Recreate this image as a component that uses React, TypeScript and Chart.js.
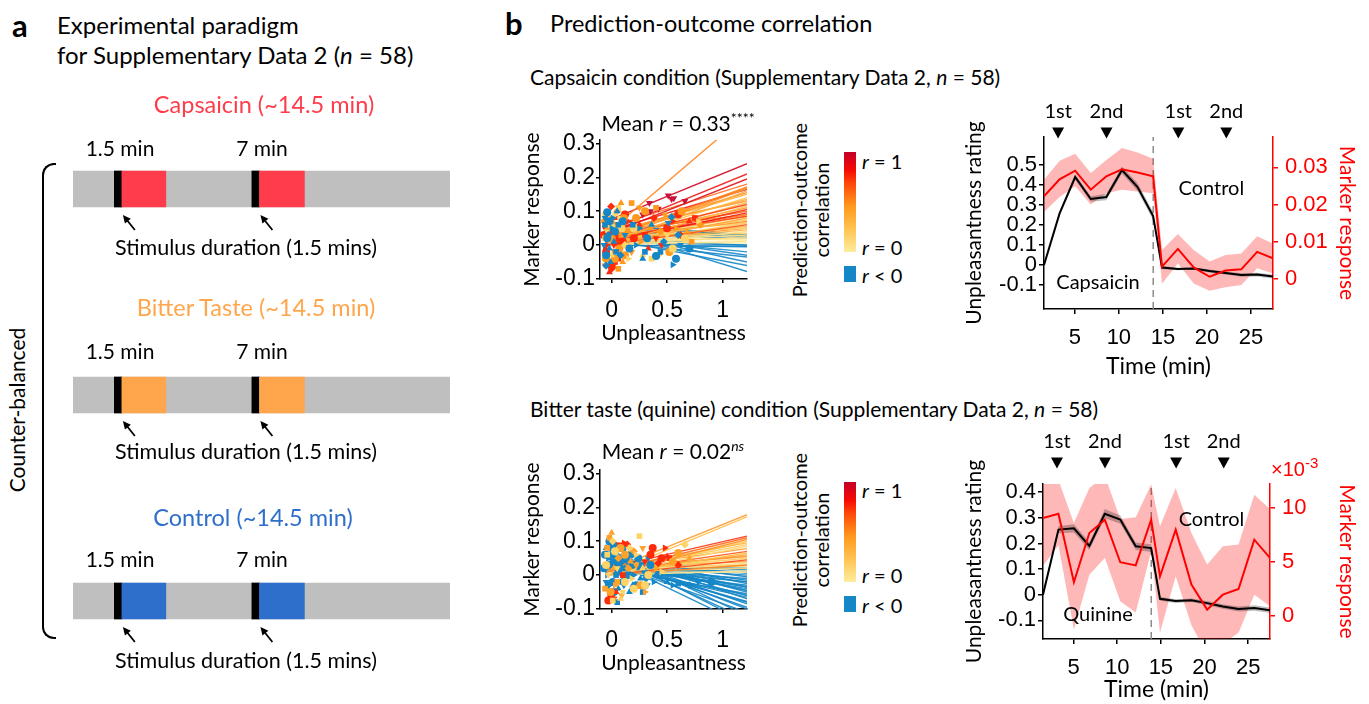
import React, { useEffect, useRef } from 'react';
import { Chart, registerables } from 'chart.js';

Chart.register(...registerables);

const FONT = "Lato, 'Noto Sans', sans-serif";
const TICK_FONT = "'Liberation Sans', Arial, sans-serif";
Chart.defaults.font.family = FONT;
Chart.defaults.color = '#000';

// ---------------- Panel a: paradigm schematic (minutes) ----------------
const schematicRows = ['Capsaicin', 'Bitter Taste', 'Control'];
const rowColors = ['#ff3c4b', '#ffa64d', '#2f6fcc'];
const sessionBar = [0, 14.5];
const markerBars = [[1.59, 1.88], [6.88, 7.17]];
const stimulusBars = [[1.88, 3.57], [7.17, 8.9]];

// ---------------- Panel b: time courses ----------------
const timeMin = [1.5, 3.27, 5.04, 6.81, 8.58, 10.35, 12.12, 13.89, 14.9, 16.7, 18.5, 20.3, 22.1, 23.9, 25.7, 27.5];
const sessionSplit = 13.9;
const eventTimes = [3.1, 8.6, 16.75, 22.2];
const eventLabels = ['1st', '2nd', '1st', '2nd'];
const timeTicks = [5, 10, 15, 20, 25];

const capRating = [0, 0.258, 0.44, 0.33, 0.34, 0.475, 0.39, 0.245, -0.013, -0.02, -0.018, -0.03, -0.04, -0.05, -0.048, -0.058];
const capRatingSE = [0.004, 0.012, 0.014, 0.014, 0.016, 0.018, 0.02, 0.02, 0.008, 0.006, 0.006, 0.007, 0.008, 0.009, 0.009, 0.01];
const capMarker = [0.0222, 0.0268, 0.0291, 0.024, 0.0276, 0.0295, 0.0286, 0.0276, 0.0032, 0.008, 0.003, 0.0005, 0.0022, 0.0025, 0.0072, 0.0055];
const capMarkerUpper = [0.0267, 0.0318, 0.0337, 0.0285, 0.032, 0.0352, 0.034, 0.0323, 0.0077, 0.012, 0.0077, 0.0046, 0.0064, 0.0068, 0.0114, 0.0095];
const capMarkerLower = [0.018, 0.022, 0.0249, 0.02, 0.023, 0.024, 0.0235, 0.023, -0.0014, 0.0041, -0.0013, -0.0033, -0.0023, -0.0017, 0.0028, 0.0014];
const capRatingTicks = [-0.1, 0, 0.1, 0.2, 0.3, 0.4, 0.5];
const capMarkerTicks = [0, 0.01, 0.02, 0.03];

const quiRating = [0, 0.254, 0.259, 0.19, 0.316, 0.293, 0.189, 0.182, -0.016, -0.025, -0.022, -0.033, -0.046, -0.056, -0.052, -0.061];
const quiRatingSE = [0.004, 0.014, 0.016, 0.016, 0.018, 0.016, 0.015, 0.015, 0.008, 0.007, 0.007, 0.008, 0.009, 0.01, 0.011, 0.011];
const quiMarker = [9.07, 9.47, 3.1, 7.68, 8.92, 4.96, 4.67, 8.92, 3.65, 7.99, 2.88, 0.56, 1.95, 2.48, 7.06, 5.36]; // x10^-3
const quiMarkerUpper = [13.5, 12.6, 8.6, 11.85, 13.0, 8.98, 9.13, 12.2, 8.3, 11.85, 7.68, 4.74, 6.44, 6.6, 11.24, 9.9];
const quiMarkerLower = [4.64, 6.53, -1.3, 3.8, 5.36, 1.33, 0.3, 5.97, -1.6, 3.65, -0.9, -3.6, -2.6, -1.6, 1.95, 0.87];
const quiRatingTicks = [-0.1, 0, 0.1, 0.2, 0.3, 0.4];
const quiMarkerTicks = [0, 5, 10];

// ---------------- Panel b: prediction-outcome scatter ----------------
const fitX = [-0.05, 1.22];
const scatterXTicks = [0, 0.5, 1];
const scatterYTicks = [-0.1, 0, 0.1, 0.2, 0.3];

const capLineStart = [0.033, 0.07, 0.04, 0.03, 0.05, 0.02, 0.01, 0.04, 0.0, 0.03, 0.01, 0.04, 0.02, 0.0, 0.01, 0.03, 0.01, 0.04, 0.02, 0.0, 0.01, 0.02, 0.03, 0.0, 0.01, 0.02, 0.01, 0.0, 0.02, 0.01, 0.0, 0.01, 0.02, 0.0, 0.01, 0.05, 0.04, 0.03, 0.02, 0.01, 0.0, 0.02, 0.03, 0.01, 0.04, 0.02, 0.05, 0.06, 0.0, 0.02, 0.03, 0.01, 0.02, 0.0, 0.01, 0.02, 0.03, 0.01];
const capLineEnd = [0.387, 0.24, 0.21, 0.195, 0.18, 0.172, 0.168, 0.165, 0.16, 0.15, 0.14, 0.13, 0.12, 0.115, 0.105, 0.1, 0.095, 0.09, 0.085, 0.08, 0.075, 0.07, 0.065, 0.06, 0.055, 0.05, 0.045, 0.04, 0.035, 0.03, 0.025, 0.02, 0.015, 0.012, 0.006, 0.03, 0.025, 0.02, 0.0, 0.0, -0.003, -0.02, -0.03, -0.035, -0.05, -0.06, -0.078, 0.03, -0.005, 0.17, 0.155, 0.125, 0.11, 0.065, 0.05, 0.09, 0.135, 0.085];
const capLineR = [0.55, 0.95, 0.85, 0.9, 0.6, 0.5, 0.45, 0.8, 0.4, 0.35, 0.3, 0.45, 0.7, 0.3, 0.75, 0.6, 0.85, 0.5, 0.7, 0.4, 0.25, 0.55, 0.2, 0.65, 0.3, 0.15, 0.35, 0.1, 0.2, 0.08, 0.12, 0.05, 0.03, 0.05, 0.02, -0.1, -0.1, -0.1, -0.2, -0.2, -0.1, -0.3, -0.3, -0.3, -0.4, -0.4, -0.5, -0.1, -0.1, 0.55, 0.5, 0.35, 0.45, 0.25, 0.6, 0.65, 0.4, 0.2];

const capPtsCrimson = [[0.34, 0.124], [0.51, 0.146], [0.54, 0.136], [0.56, 0.138], [0.66, 0.13], [0.42, 0.107], [0.35, 0.1], [0.28, 0.09]];
const capPtsRed = [[-0.005, 0.114], [0.02, 0.0], [-0.05, -0.02], [-0.03, 0.03], [0.0, -0.06], [-0.02, -0.08], [0.03, -0.05], [0.05, 0.02], [-0.06, 0.05], [0.1, 0.01], [0.15, 0.07], [0.2, 0.02], [0.25, 0.06], [0.3, 0.03], [0.38, 0.08], [0.45, 0.0], [0.5, 0.05], [0.55, 0.07], [0.6, 0.09], [0.7, 0.07], [0.75, 0.08], [0.62, 0.03], [0.4, 0.02], [0.12, 0.09], [-0.04, 0.0], [0.01, 0.04], [0.33, -0.01], [0.08, -0.03], [0.0, -0.07], [0.05, 0.06], [-0.07, 0.03], [-0.06, -0.01], [-0.03, 0.06], [0.03, 0.08], [0.06, -0.04], [-0.01, 0.02], [0.04, 0.03], [0.09, 0.06], [0.02, -0.065], [0.07, 0.0]];
const capPtsOrange = [[0.085, 0.124], [0.18, 0.124], [-0.07, 0.07], [-0.03, 0.08], [0.0, 0.02], [0.04, 0.06], [0.07, -0.01], [0.1, -0.05], [0.06, -0.07], [0.14, 0.04], [0.18, -0.02], [0.22, 0.08], [0.26, 0.01], [0.3, 0.1], [0.35, 0.05], [0.4, 0.11], [0.44, 0.04], [0.48, 0.09], [0.52, -0.02], [0.58, 0.05], [0.63, 0.1], [0.68, 0.04], [0.72, 0.01], [0.8, 0.06], [0.25, 0.11], [-0.05, -0.04], [0.02, -0.02], [0.12, -0.03], [-0.04, 0.05], [0.0, 0.07], [0.05, 0.1], [-0.06, -0.06], [0.03, -0.04], [0.08, 0.03], [0.11, 0.08]];
const capPtsYellow = [[0.06, 0.11], [-0.02, 0.06], [0.03, 0.09], [0.09, 0.05], [0.15, -0.04], [0.2, 0.05], [0.28, -0.03], [0.36, -0.04], [0.42, -0.03], [0.5, 0.03], [0.66, 0.02], [0.78, 0.07], [0.55, -0.01], [0.0, -0.03], [-0.06, 0.02], [0.12, 0.0], [-0.04, 0.04], [0.02, 0.05], [0.07, 0.08], [-0.05, 0.09]];
const capPtsBlue = [[-0.04, 0.097], [0.05, 0.1], [0.19, 0.06], [0.54, 0.083], [0.51, 0.065], [0.58, -0.04], [0.55, -0.058], [0.4, -0.032], [0.28, -0.04], [-0.06, 0.06], [-0.03, 0.03], [-0.07, 0.0], [-0.02, 0.07], [0.0, 0.05], [-0.05, -0.03], [0.02, 0.01], [0.04, -0.02], [0.08, -0.03], [0.12, 0.03], [0.16, -0.01], [0.22, 0.0], [0.32, 0.02], [0.36, 0.06], [0.44, -0.02], [0.47, 0.01], [0.62, 0.0], [0.7, -0.01], [0.25, 0.05], [0.1, 0.07], [-0.01, -0.05], [0.3, -0.02], [0.6, 0.03], [-0.06, 0.08], [-0.04, 0.02], [0.01, 0.08], [0.03, 0.04], [-0.02, -0.01], [0.06, 0.06], [-0.05, -0.06]];

const quiLineStart = [0.01, 0.0, 0.02, 0.01, 0.0, 0.02, 0.01, 0.0, 0.02, 0.01, 0.0, 0.02, 0.01, 0.0, 0.02, 0.01, 0.0, 0.02, 0.01, 0.0, 0.01, 0.02, 0.01, 0.0, 0.02, 0.03, 0.04, 0.02, 0.03, 0.05, 0.02, 0.04, 0.03, 0.06, 0.02, 0.05, 0.03, 0.04, 0.06, 0.02, 0.05, 0.03, 0.07, 0.04, 0.06, 0.05, 0.08, 0.06, 0.07, 0.05, 0.04, 0.03, 0.02, 0.04, 0.05, 0.03, 0.06, 0.04];
const quiLineEnd = [0.178, 0.172, 0.115, 0.11, 0.105, 0.095, 0.09, 0.085, 0.078, 0.07, 0.065, 0.055, 0.05, 0.045, 0.04, 0.035, 0.03, 0.025, 0.02, 0.012, 0.008, 0.03, 0.06, 0.1, 0.048, 0.02, 0.015, 0.01, 0.0, -0.005, -0.01, -0.015, -0.02, -0.025, -0.03, -0.035, -0.04, -0.045, -0.05, -0.055, -0.06, -0.065, -0.07, -0.078, -0.085, -0.095, -0.12, -0.13, -0.14, -0.15, -0.11, -0.035, -0.02, 0.005, -0.045, -0.06, -0.1, -0.08];
const quiLineR = [0.45, 0.3, 0.75, 0.6, 0.5, 0.35, 0.25, 0.15, 0.45, 0.65, 0.3, 0.5, 0.2, 0.7, 0.4, 0.1, 0.55, 0.08, 0.15, 0.05, 0.03, 0.25, 0.4, 0.2, 0.12, -0.1, -0.1, -0.1, -0.2, -0.2, -0.2, -0.2, -0.3, -0.3, -0.3, -0.3, -0.3, -0.4, -0.4, -0.4, -0.4, -0.5, -0.5, -0.5, -0.5, -0.6, -0.6, -0.6, -0.6, -0.6, -0.5, -0.3, -0.2, -0.1, -0.4, -0.4, -0.5, -0.5];

const quiPtsRed = [[0.14, 0.09], [0.07, 0.09], [0.37, 0.08], [0.48, 0.08], [0.45, 0.05], [0.5, 0.055], [0.52, 0.05], [0.42, 0.035], [0.3, 0.04], [0.35, 0.06], [-0.02, -0.06], [0.0, -0.07], [0.04, -0.05], [0.1, 0.0], [0.6, 0.03], [0.02, -0.07], [-0.03, -0.075], [0.11, 0.095]];
const quiPtsOrange = [[0.0, 0.125], [-0.02, 0.11], [0.2, 0.07], [0.28, 0.08], [0.6, 0.065], [0.3, -0.05], [0.26, -0.03], [0.02, 0.02], [0.05, -0.02], [0.15, 0.02], [0.22, 0.03], [0.12, 0.06], [0.4, 0.02], [0.55, 0.04], [0.7, 0.05], [-0.06, -0.04], [0.06, 0.05], [0.09, -0.06], [-0.01, -0.05], [0.03, -0.03], [0.08, 0.08], [0.17, 0.04], [-0.04, 0.08]];
const quiPtsYellow = [[0.25, 0.115], [0.66, 0.09], [0.1, -0.05], [-0.05, 0.03], [0.18, -0.01], [0.33, 0.0], [0.08, -0.07], [0.01, -0.075], [0.16, 0.08], [-0.03, 0.0], [0.2, -0.04], [0.45, 0.01], [0.03, 0.07], [0.28, 0.02], [-0.04, 0.06], [0.01, 0.1], [0.05, 0.02], [0.12, -0.02], [0.22, 0.06], [0.3, -0.03]];
const quiPtsBlue = [[-0.02, 0.1], [-0.05, 0.08], [0.0, 0.06], [0.03, 0.09], [0.05, 0.04], [-0.07, 0.02], [-0.04, 0.0], [0.01, -0.02], [0.06, -0.04], [0.09, 0.02], [0.12, -0.01], [0.14, 0.04], [0.17, 0.06], [0.2, 0.0], [0.22, -0.03], [0.25, 0.02], [0.28, -0.05], [0.3, 0.01], [0.32, -0.03], [0.35, 0.03], [0.38, -0.02], [0.42, 0.0], [0.5, -0.02], [0.6, -0.025], [0.7, -0.03], [0.78, -0.02], [0.9, -0.02], [0.55, -0.03], [0.1, 0.08], [0.16, -0.05], [0.05, -0.08], [-0.03, -0.03], [0.08, 0.05], [0.24, 0.05], [0.13, 0.02], [0.18, 0.03], [0.26, -0.01], [0.04, 0.0], [-0.01, 0.03], [0.11, -0.03], [-0.06, 0.06], [-0.03, 0.05], [0.0, 0.08], [0.02, 0.04], [0.04, 0.07], [0.07, 0.03], [-0.05, -0.02], [0.02, -0.05], [0.09, -0.02], [0.15, 0.0], [0.19, -0.03], [0.27, 0.03], [0.31, -0.01], [0.33, 0.05], [0.06, 0.01]];

// ---------------- helpers ----------------
const BLUE = '#1586c6';
const R_STOPS: [number, number[]][] = [
  [0, [255, 237, 160]],
  [0.3, [255, 190, 70]],
  [0.55, [255, 130, 30]],
  [0.8, [250, 30, 15]],
  [1, [195, 0, 40]],
];
function rColor(r: number, a = 1) {
  if (r < 0) return `rgba(21,134,198,${a})`;
  for (let i = 1; i < R_STOPS.length; i++) {
    const [r0, c0] = R_STOPS[i - 1];
    const [r1, c1] = R_STOPS[i];
    if (r <= r1) {
      const t = (r - r0) / (r1 - r0);
      const c = c0.map((v, k) => Math.round(v + (c1[k] - v) * t));
      return `rgba(${c[0]},${c[1]},${c[2]},${a})`;
    }
  }
  return `rgba(195,0,40,${a})`;
}
const SHAPES = ['circle', 'triangle', 'rect', 'rectRot', 'triangle', 'circle', 'triangle'];
const ROTS = [0, 0, 0, 0, 180, 0, 90];
const fmt = (v: number) => String(Number(v.toFixed(4)));

function axisStyle(color: string, tickLength = 5) {
  return {
    border: { display: true, color, width: 1.5 },
    grid: { display: true, drawOnChartArea: false, drawTicks: true, tickLength, color, lineWidth: 1.5 },
  };
}

function ChartCanvas({ left, top, width, height, make }: any) {
  const ref = useRef<HTMLCanvasElement>(null);
  useEffect(() => {
    const chart = new Chart(ref.current as HTMLCanvasElement, make());
    return () => chart.destroy();
  }, []);
  return (
    <canvas
      ref={ref}
      width={width}
      height={height}
      style={{ position: 'absolute', left, top, width, height }}
    />
  );
}

function Txt({ x, y, size = 20, color = '#000', align = 'center', rotate = 0, weight = 400, family = FONT, children }: any) {
  const tx = align === 'center' ? '-50%' : align === 'right' ? '-100%' : '0';
  return (
    <div
      style={{
        position: 'absolute', left: x, top: y, transform: `translate(${tx}, -50%) rotate(${rotate}deg)`,
        fontSize: size, color, fontFamily: family, fontWeight: weight, whiteSpace: 'nowrap', lineHeight: 1,
      }}
    >
      {children}
    </div>
  );
}

// ---------------- schematic chart ----------------
function schematicConfig(): any {
  const arrowPlugin = {
    id: 'arrows',
    afterDatasetsDraw(chart: any) {
      const { ctx, scales } = chart;
      ctx.save();
      ctx.strokeStyle = '#000';
      ctx.fillStyle = '#000';
      ctx.lineWidth = 1.8;
      schematicRows.forEach((_r, i) => {
        stimulusBars.forEach((b) => {
          const tx = scales.x.getPixelForValue(b[0]) + 1;
          const ty = scales.y.getPixelForValue(i) + 18 + 8;
          const sx = tx + 12, sy = ty + 15;
          const dx = tx - sx, dy = ty - sy;
          const len = Math.hypot(dx, dy);
          const ux = dx / len, uy = dy / len;
          const hl = 8, hw = 3.8;
          ctx.beginPath();
          ctx.moveTo(sx, sy);
          ctx.lineTo(tx - ux * hl * 0.8, ty - uy * hl * 0.8);
          ctx.stroke();
          ctx.beginPath();
          ctx.moveTo(tx, ty);
          ctx.lineTo(tx - ux * hl - uy * hw, ty - uy * hl + ux * hw);
          ctx.lineTo(tx - ux * hl + uy * hw, ty - uy * hl - ux * hw);
          ctx.closePath();
          ctx.fill();
        });
      });
      ctx.restore();
    },
  };
  const common = { barThickness: 36, grouped: false, borderWidth: 0 };
  return {
    type: 'bar',
    data: {
      labels: schematicRows,
      datasets: [
        { ...common, label: 'Stimulus 1', data: schematicRows.map(() => stimulusBars[0]), backgroundColor: rowColors, order: 1 },
        { ...common, label: 'Stimulus 2', data: schematicRows.map(() => stimulusBars[1]), backgroundColor: rowColors, order: 1 },
        { ...common, label: 'Marker 1', data: schematicRows.map(() => markerBars[0]), backgroundColor: '#000', order: 1 },
        { ...common, label: 'Marker 2', data: schematicRows.map(() => markerBars[1]), backgroundColor: '#000', order: 1 },
        { ...common, label: 'Session', data: schematicRows.map(() => sessionBar), backgroundColor: '#bfbfbf', order: 2 },
      ],
    },
    options: {
      indexAxis: 'y',
      responsive: false,
      animation: false,
      events: [],
      layout: { padding: 0 },
      plugins: { legend: { display: false }, tooltip: { enabled: false } },
      scales: {
        x: { type: 'linear', min: sessionBar[0], max: sessionBar[1], display: false },
        y: { type: 'category', display: false },
      },
    },
    plugins: [arrowPlugin],
  };
}

// ---------------- time-course chart ----------------
function tsConfig(p: any): any {
  const pts = (arr: number[]) => timeMin.map((t, i) => ({ x: t, y: arr[i] }));
  const base = { pointRadius: 0, tension: 0 };
  const marks = {
    id: 'marks',
    afterDraw(chart: any) {
      const { ctx, chartArea, scales } = chart;
      ctx.save();
      ctx.fillStyle = '#000';
      ctx.textAlign = 'center';
      ctx.textBaseline = 'middle';
      ctx.font = `20px ${FONT}`;
      eventTimes.forEach((t, i) => {
        const x = scales.x.getPixelForValue(t);
        const yc = chartArea.top - p.triOffset;
        ctx.beginPath();
        ctx.moveTo(x - 6, yc - 5.5);
        ctx.lineTo(x + 6, yc - 5.5);
        ctx.lineTo(x, yc + 5.5);
        ctx.closePath();
        ctx.fill();
        ctx.fillText(eventLabels[i], x, chartArea.top - p.labelOffset);
      });
      p.notes.forEach((n: any) => {
        ctx.fillText(n.text, scales.x.getPixelForValue(n.x), scales.y.getPixelForValue(n.y));
      });
      ctx.restore();
    },
  };
  return {
    type: 'line',
    data: {
      datasets: [
        { ...base, data: pts(p.marker), yAxisID: 'y2', borderColor: '#ff0000', borderWidth: 2, fill: false },
        { ...base, data: pts(p.rating), yAxisID: 'y', borderColor: '#000000', borderWidth: 2, fill: false },
        { ...base, data: pts(p.rating.map((v: number, i: number) => v + p.ratingSE[i])), yAxisID: 'y', borderColor: 'transparent', borderWidth: 0, fill: '+1', backgroundColor: 'rgba(0,0,0,0.25)' },
        { ...base, data: pts(p.rating.map((v: number, i: number) => v - p.ratingSE[i])), yAxisID: 'y', borderColor: 'transparent', borderWidth: 0, fill: false },
        { ...base, data: pts(p.upper), yAxisID: 'y2', borderColor: 'transparent', borderWidth: 0, fill: '+1', backgroundColor: 'rgba(255,0,0,0.28)' },
        { ...base, data: pts(p.lower), yAxisID: 'y2', borderColor: 'transparent', borderWidth: 0, fill: false },
        { ...base, data: [{ x: sessionSplit, y: p.leftMin }, { x: sessionSplit, y: p.leftMax }], yAxisID: 'y', borderColor: '#8c8c8c', borderWidth: 1.5, borderDash: [7, 5], fill: false },
      ],
    },
    options: {
      responsive: false,
      animation: false,
      events: [],
      layout: { padding: { top: p.padTop, left: 0, right: 0, bottom: 0 } },
      plugins: { legend: { display: false }, tooltip: { enabled: false } },
      scales: {
        x: {
          type: 'linear', min: timeMin[0], max: timeMin[timeMin.length - 1],
          afterBuildTicks: (s: any) => { s.ticks = timeTicks.map((v) => ({ value: v })); },
          afterFit: (s: any) => { s.height = p.xHeight; },
          ...axisStyle('#000'),
          ticks: { font: { family: TICK_FONT, size: 22 }, color: '#000', padding: 11, maxRotation: 0, autoSkip: false, callback: (v: number) => fmt(v) },
          title: { display: true, text: 'Time (min)', font: { family: FONT, size: 23 }, color: '#000', padding: { top: 0, bottom: 1 } },
        },
        y: {
          type: 'linear', position: 'left', min: p.leftMin, max: p.leftMax,
          afterBuildTicks: (s: any) => { s.ticks = p.leftTicks.map((v: number) => ({ value: v })); },
          afterFit: (s: any) => { s.width = p.leftW; },
          ...axisStyle('#000'),
          ticks: { font: { family: TICK_FONT, size: 22 }, color: '#000', padding: 2, autoSkip: false, callback: (v: number) => fmt(v) },
          title: { display: true, text: 'Unpleasantness rating', font: { family: FONT, size: 21 }, color: '#000', padding: { top: 2, bottom: 0 } },
        },
        y2: {
          type: 'linear', position: 'right', min: p.rightMin, max: p.rightMax,
          afterBuildTicks: (s: any) => { s.ticks = p.rightTicks.map((v: number) => ({ value: v })); },
          afterFit: (s: any) => { s.width = p.rightW; },
          ...axisStyle('#ff0000'),
          ticks: { font: { family: TICK_FONT, size: 22 }, color: '#ff0000', padding: 7, autoSkip: false, callback: (v: number) => fmt(v) },
          title: { display: true, text: 'Marker response', font: { family: FONT, size: 21 }, color: '#ff0000', padding: { top: 10, bottom: 0 } },
        },
      },
    },
    plugins: [marks],
  };
}

// ---------------- scatter chart ----------------
function scatterConfig(p: any): any {
  const lineSets = p.lineStart.map((s: number, i: number) => ({
    type: 'line',
    data: [{ x: fitX[0], y: s }, { x: fitX[1], y: p.lineEnd[i] }],
    borderColor: rColor(p.lineR[i], 0.9),
    borderWidth: 1.4,
    pointRadius: 0,
    showLine: true,
    fill: false,
    order: 2,
  }));
  const pointSets = p.groups.map((g: any) => ({
    type: 'scatter',
    data: g.pts.map(([x, y]: number[]) => ({ x, y })),
    backgroundColor: g.color,
    borderColor: g.color,
    borderWidth: 0,
    pointRadius: 4,
    pointStyle: (c: any) => g.shape || SHAPES[(c.dataIndex + g.shift) % SHAPES.length],
    pointRotation: (c: any) => (g.shape ? g.rot : ROTS[(c.dataIndex + g.shift) % ROTS.length]),
    order: 1,
  }));
  return {
    type: 'scatter',
    data: { datasets: [...pointSets, ...lineSets] },
    options: {
      responsive: false,
      animation: false,
      events: [],
      layout: { padding: { top: 20, right: 13, left: 0, bottom: 0 } },
      plugins: { legend: { display: false }, tooltip: { enabled: false } },
      scales: {
        x: {
          type: 'linear', min: -0.105, max: fitX[1],
          afterBuildTicks: (s: any) => { s.ticks = scatterXTicks.map((v) => ({ value: v })); },
          afterFit: (s: any) => { s.height = 69; },
          ...axisStyle('#000', 4),
          ticks: { font: { family: TICK_FONT, size: 23 }, color: '#000', padding: 14, maxRotation: 0, autoSkip: false, callback: (v: number) => fmt(v) },
          title: { display: true, text: 'Unpleasantness', font: { family: FONT, size: 21 }, color: '#000', padding: { top: 0, bottom: 2 } },
        },
        y: {
          type: 'linear', min: -0.1, max: 0.31,
          afterBuildTicks: (s: any) => { s.ticks = scatterYTicks.map((v) => ({ value: v })); },
          afterFit: (s: any) => { s.width = 80; },
          ...axisStyle('#000', 4),
          ticks: { font: { family: TICK_FONT, size: 23 }, color: '#000', padding: 1, autoSkip: false, callback: (v: number) => fmt(v) },
          title: { display: true, text: 'Marker response', font: { family: FONT, size: 21 }, color: '#000', padding: { top: 0, bottom: 0 } },
        },
      },
    },
  };
}

function Colorbar({ top, labelsY }: any) {
  return (
    <>
      <div
        style={{
          position: 'absolute', left: 844, top, width: 12, height: 100,
          background: 'linear-gradient(to top, #ffec9c 0%, #ffc555 22%, #ff9a1f 45%, #ff4a0a 68%, #f50a05 82%, #c40028 100%)',
        }}
      />
      <div style={{ position: 'absolute', left: 844, top: top + 114, width: 12, height: 16, background: BLUE }} />
      <Txt x={862} y={labelsY[0]} size={20} align="left"><i>r</i> = 1</Txt>
      <Txt x={862} y={labelsY[1]} size={20} align="left"><i>r</i> = 0</Txt>
      <Txt x={862} y={labelsY[2]} size={20} align="left"><i>r</i> &lt; 0</Txt>
      <Txt x={799} y={top + 58} size={20} rotate={-90}>Prediction-outcome</Txt>
      <Txt x={821} y={top + 58} size={20} rotate={-90}>correlation</Txt>
    </>
  );
}

export default function App() {
  const capGroups = [
    { pts: capPtsBlue, color: BLUE, shift: 0 },
    { pts: capPtsYellow, color: '#ffd466', shift: 2 },
    { pts: capPtsOrange, color: '#ff9a1f', shift: 1 },
    { pts: capPtsRed, color: '#ff2a0a', shift: 3 },
    { pts: capPtsCrimson, color: '#c8143c', shape: 'triangle', rot: 180, shift: 0 },
  ];
  const quiGroups = [
    { pts: quiPtsYellow, color: '#ffd466', shift: 2 },
    { pts: quiPtsOrange, color: '#ffa22a', shift: 1 },
    { pts: quiPtsRed, color: '#ff2a0a', shift: 3 },
    { pts: quiPtsBlue, color: BLUE, shift: 0 },
  ];
  const schematicY = [
    { title: 105, mins: 147, stim: 248 },
    { title: 308, mins: 350, stim: 452 },
    { title: 518, mins: 558, stim: 661 },
  ];
  const titles = ['Capsaicin (~14.5 min)', 'Bitter Taste (~14.5 min)', 'Control (~14.5 min)'];
  const titleX = [264, 256, 253];

  return (
    <div style={{ position: 'absolute', left: 0, top: 0, width: 1369, height: 704, background: '#fff', overflow: 'hidden', fontFamily: FONT }}>
      {/* Panel a */}
      <Txt x={12} y={25} size={31} weight={700} align="left">a</Txt>
      <Txt x={57} y={25} size={24} align="left">Experimental paradigm</Txt>
      <Txt x={57} y={55} size={24} align="left">for Supplementary Data 2 (<i>n</i> = 58)</Txt>
      <ChartCanvas left={73} top={86} width={377} height={618} make={schematicConfig} />
      {schematicY.map((r, i) => (
        <React.Fragment key={i}>
          <Txt x={titleX[i]} y={r.title} size={23.5} color={rowColors[i]}>{titles[i]}</Txt>
          <Txt x={120} y={r.mins} size={21}>1.5 min</Txt>
          <Txt x={262} y={r.mins} size={21}>7 min</Txt>
          <Txt x={246} y={r.stim} size={21.5}>Stimulus duration (1.5 mins)</Txt>
        </React.Fragment>
      ))}
      <div
        style={{
          position: 'absolute', left: 42, top: 163, width: 12, height: 472,
          borderLeft: '2px solid #000', borderTop: '2px solid #000', borderBottom: '2px solid #000',
          borderRadius: '12px 0 0 12px',
        }}
      />
      <Txt x={16} y={410} size={21} rotate={-90}>Counter-balanced</Txt>

      {/* Panel b */}
      <Txt x={505} y={23} size={31} weight={700} align="left">b</Txt>
      <Txt x={550} y={24} size={23.5} align="left">Prediction-outcome correlation</Txt>
      <Txt x={530} y={76} size={21} align="left">Capsaicin condition (Supplementary Data 2, <i>n</i> = 58)</Txt>
      <Txt x={530} y={408} size={21} align="left">Bitter taste (quinine) condition (Supplementary Data 2, <i>n</i> = 58)</Txt>

      <ChartCanvas
        left={520} top={120} width={240} height={228}
        make={() => scatterConfig({ lineStart: capLineStart, lineEnd: capLineEnd, lineR: capLineR, groups: capGroups })}
      />
      <Txt x={678} y={122} size={21}>Mean <i>r</i> = 0.33<sup style={{ fontSize: 14 }}>****</sup></Txt>
      <Colorbar top={152} labelsY={[161, 247, 275]} />

      <ChartCanvas
        left={520} top={450} width={240} height={228}
        make={() => scatterConfig({ lineStart: quiLineStart, lineEnd: quiLineEnd, lineR: quiLineR, groups: quiGroups })}
      />
      <Txt x={673} y={450} size={21}>Mean <i>r</i> = 0.02<sup style={{ fontSize: 14 }}><i>ns</i></sup></Txt>
      <Colorbar top={482} labelsY={[490, 575, 605]} />

      <ChartCanvas
        left={960} top={95} width={409} height={286}
        make={() => tsConfig({
          rating: capRating, ratingSE: capRatingSE, marker: capMarker, upper: capMarkerUpper, lower: capMarkerLower,
          leftMin: -0.22, leftMax: 0.64, leftTicks: capRatingTicks,
          rightMin: -0.0082, rightMax: 0.0382, rightTicks: capMarkerTicks,
          padTop: 42, xHeight: 72, leftW: 84, rightW: 96, triOffset: 4, labelOffset: 25,
          notes: [{ text: 'Capsaicin', x: 7.63, y: -0.09 }, { text: 'Control', x: 20.5, y: 0.384 }],
        })}
      />
      <ChartCanvas
        left={960} top={425} width={409} height={279}
        make={() => tsConfig({
          rating: quiRating, ratingSE: quiRatingSE, marker: quiMarker, upper: quiMarkerUpper, lower: quiMarkerLower,
          leftMin: -0.173, leftMax: 0.432, leftTicks: quiRatingTicks,
          rightMin: -2.17, rightMax: 12.23, rightTicks: quiMarkerTicks,
          padTop: 59, xHeight: 65, leftW: 83, rightW: 99, triOffset: 21, labelOffset: 42,
          notes: [{ text: 'Quinine', x: 7.8, y: -0.079 }, { text: 'Control', x: 20.8, y: 0.295 }],
        })}
      />
      <Txt x={1271} y={467} size={20} color="#ff0000" align="left" family={TICK_FONT}>×10<sup style={{ fontSize: 15 }}>-3</sup></Txt>
    </div>
  );
}
